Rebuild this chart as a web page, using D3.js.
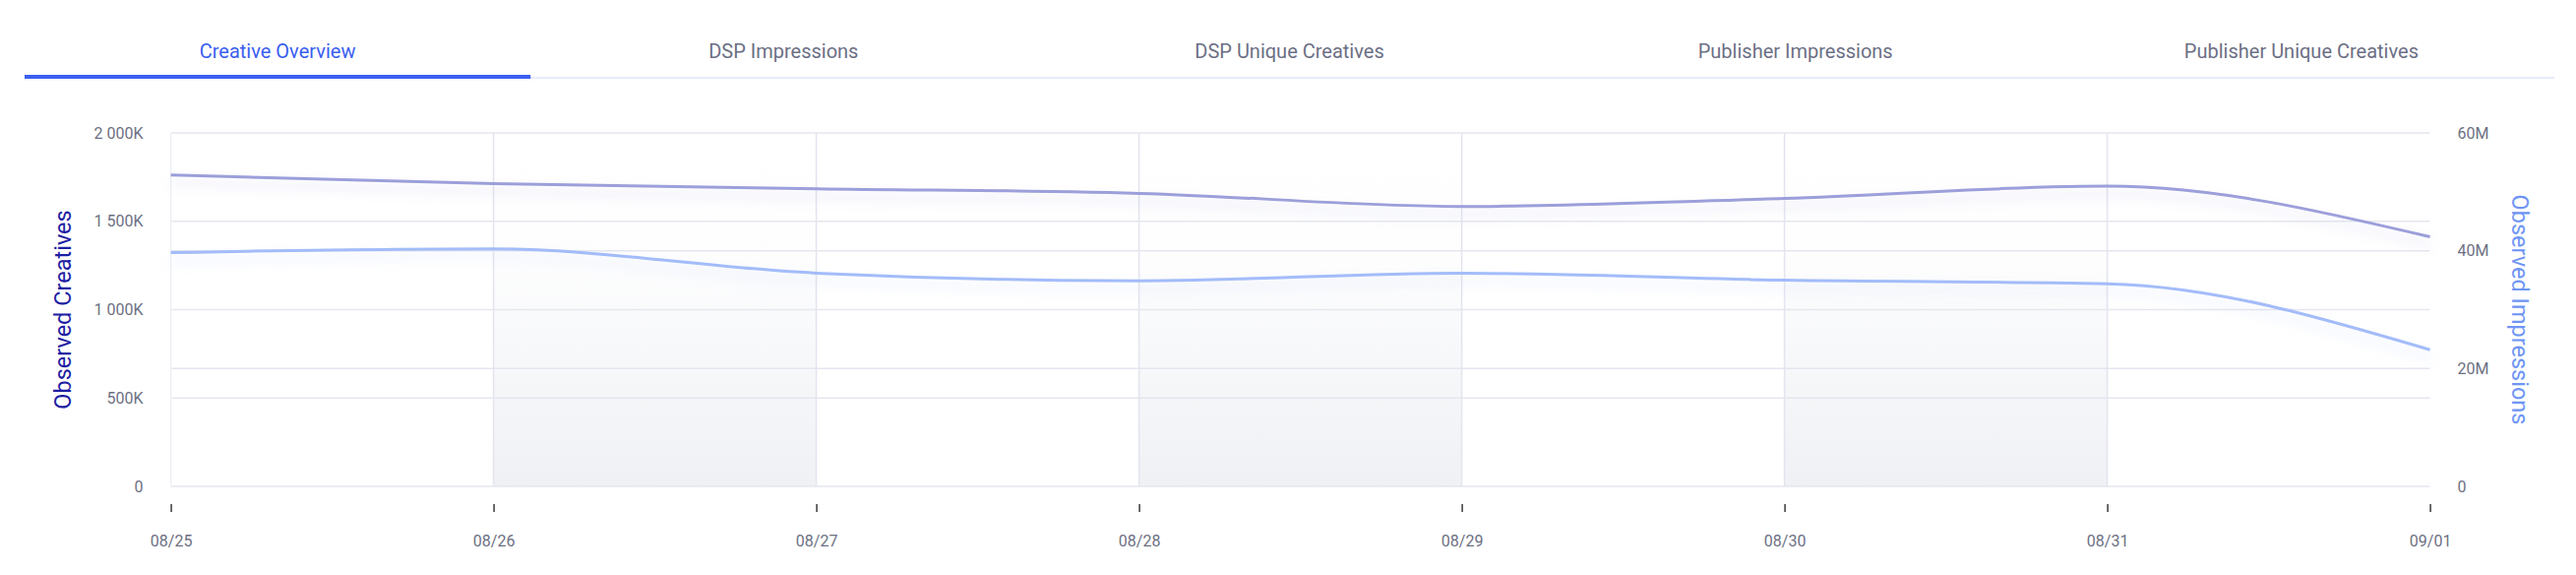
<!DOCTYPE html>
<html>
<head>
<meta charset="utf-8">
<script src="https://cdn.jsdelivr.net/npm/d3@7"></script>
<style>
  html, body { margin: 0; padding: 0; background: #fff; }
  svg { display: block; font-family: Roboto, "Noto Sans", sans-serif; }
</style>
</head>
<body>
<svg id="chart" width="2618" height="584"></svg>
<script>
// ---- data ----
const tabs = ["Creative Overview", "DSP Impressions", "DSP Unique Creatives", "Publisher Impressions", "Publisher Unique Creatives"];
const dates = ["08/25", "08/26", "08/27", "08/28", "08/29", "08/30", "08/31", "09/01"];
const creatives = [1762, 1713, 1684, 1658, 1584, 1630, 1699, 1412];      // thousands
const impressions = [39.7, 40.3, 36.2, 34.9, 36.2, 35.0, 34.4, 23.2];    // millions
const leftTicks = [0, 500, 1000, 1500, 2000];
const rightTicks = [0, 20, 40, 60];

(function () {
// ---- layout ----
const pL = 173.6, pR = 2469.6, pT = 135, pB = 494;

const svg = d3.select("#chart");
const defs = svg.append("defs");

// band gradient
const grad = defs.append("linearGradient").attr("id", "bandGrad")
  .attr("x1", 0).attr("y1", 0).attr("x2", 0).attr("y2", 1);
grad.append("stop").attr("offset", "0%").attr("stop-color", "#eef0f4").attr("stop-opacity", 0);
grad.append("stop").attr("offset", "35%").attr("stop-color", "#eef0f4").attr("stop-opacity", 0.1);
grad.append("stop").attr("offset", "100%").attr("stop-color", "#eff0f4").attr("stop-opacity", 0.95);

function shadow(id, color) {
  const f = defs.append("filter").attr("id", id)
    .attr("x", "-5%").attr("y", "-50%").attr("width", "110%").attr("height", "300%");
  f.append("feDropShadow").attr("dx", 0).attr("dy", 8).attr("stdDeviation", 6)
    .attr("flood-color", color).attr("flood-opacity", 0.28);
}
shadow("glowA", "#8f93d8");
shadow("glowB", "#9bb5f5");

// ---- tabs ----
const tabX = d3.scaleBand().domain(tabs).range([25, 2596]);
const tabG = svg.append("g");
tabG.append("line").attr("x1", 25).attr("x2", 2596).attr("y1", 79).attr("y2", 79)
  .attr("stroke", "#e1e5f6").attr("stroke-width", 1.5);
tabG.selectAll("text.tab").data(tabs).join("text")
  .attr("class", "tab")
  .attr("x", d => tabX(d) + tabX.bandwidth() / 2)
  .attr("y", 59)
  .attr("text-anchor", "middle")
  .attr("font-size", 20)
  .attr("fill", (d, i) => i === 0 ? "#3a5ef0" : "#6c6f85")
  .text(d => d);
tabG.append("rect").attr("x", tabX(tabs[0])).attr("y", 76)
  .attr("width", tabX.bandwidth()).attr("height", 4).attr("fill", "#3b5ff1");

// ---- scales ----
const x = d3.scalePoint().domain(dates).range([pL, pR]);
const yL = d3.scaleLinear().domain([0, 2000]).range([pB, pT]);
const yR = d3.scaleLinear().domain([0, 60]).range([pB, pT]);

// ---- bands (alternate day columns) ----
const bandPairs = [[1, 2], [3, 4], [5, 6]];
svg.append("g").selectAll("rect").data(bandPairs).join("rect")
  .attr("x", d => x(dates[d[0]]))
  .attr("width", d => x(dates[d[1]]) - x(dates[d[0]]))
  .attr("y", pT).attr("height", pB - pT)
  .attr("fill", "url(#bandGrad)");

// ---- gridlines ----
const grid = svg.append("g").attr("stroke", "#e5e6ef").attr("stroke-width", 1.5);
grid.selectAll("line.gl").data(leftTicks).join("line").attr("class", "gl")
  .attr("x1", pL).attr("x2", pR).attr("y1", d => yL(d)).attr("y2", d => yL(d));
grid.selectAll("line.gr").data(rightTicks.filter(d => d !== 0 && d !== 60)).join("line").attr("class", "gr")
  .attr("x1", pL).attr("x2", pR).attr("y1", d => yR(d)).attr("y2", d => yR(d));
grid.selectAll("line.gv").data(dates.slice(0, 7)).join("line").attr("class", "gv")
  .attr("x1", d => x(d)).attr("x2", d => x(d)).attr("y1", pT).attr("y2", pB)
  .attr("stroke", (d, i) => i === 0 ? "#eeeff5" : "#e3e4ee");

// ---- lines ----
const lineL = d3.line().x((d, i) => x(dates[i])).y(d => yL(d)).curve(d3.curveMonotoneX);
const lineR = d3.line().x((d, i) => x(dates[i])).y(d => yR(d)).curve(d3.curveMonotoneX);

svg.append("path").datum(impressions).attr("d", lineR)
  .attr("fill", "none").attr("stroke", "#a3bcf9").attr("stroke-width", 3)
  .attr("filter", "url(#glowB)");
svg.append("path").datum(creatives).attr("d", lineL)
  .attr("fill", "none").attr("stroke", "#9c9fda").attr("stroke-width", 3)
  .attr("filter", "url(#glowA)");

// ---- axes ----
const fmtL = d => d === 0 ? "0" : d3.format(",")(d).replace(/,/g, " ") + "K";
const fmtR = d => d === 0 ? "0" : d + "M";

const axL = svg.append("g").attr("transform", `translate(${pL},0)`)
  .call(d3.axisLeft(yL).tickValues(leftTicks).tickFormat(fmtL).tickSize(0).tickPadding(28));
axL.select(".domain").remove();
axL.selectAll("text").attr("font-size", 16).attr("fill", "#6d7083").attr("font-family", "Roboto");

const axR = svg.append("g").attr("transform", `translate(${pR},0)`)
  .call(d3.axisRight(yR).tickValues(rightTicks).tickFormat(fmtR).tickSize(0).tickPadding(28));
axR.select(".domain").remove();
axR.selectAll("text").attr("font-size", 16).attr("fill", "#6d7083").attr("font-family", "Roboto");

const axB = svg.append("g").attr("transform", `translate(0,512)`)
  .call(d3.axisBottom(x).tickSize(8).tickPadding(24));
axB.select(".domain").remove();
axB.selectAll("line").attr("stroke", "#3a3a3a").attr("stroke-width", 1.5);
axB.selectAll("text").attr("font-size", 16).attr("fill", "#6d7083").attr("font-family", "Roboto");

// ---- axis titles ----
svg.append("text")
  .attr("transform", `translate(72,${(pT + pB) / 2}) rotate(-90)`)
  .attr("text-anchor", "middle").attr("font-size", 23.5).attr("fill", "#1c20a3")
  .text("Observed Creatives");
svg.append("text")
  .attr("transform", `translate(2553,${(pT + pB) / 2}) rotate(90)`)
  .attr("text-anchor", "middle").attr("font-size", 23.5).attr("fill", "#6e95f4")
  .text("Observed Impressions");
})();
</script>
</body>
</html>
